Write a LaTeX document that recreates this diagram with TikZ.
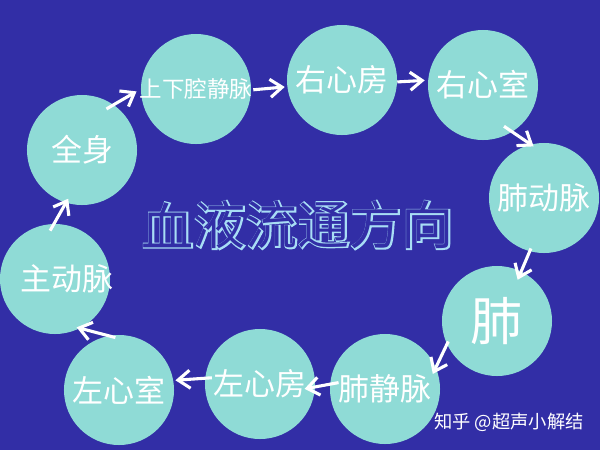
\documentclass[tikz,border=0pt]{standalone}
\usepackage{fontspec}
\newfontfamily\cjk{Noto Sans CJK SC}
\newfontfamily\cjkfat[FakeBold=4.5]{Noto Sans CJK SC}
\usepackage{xcolor}
\usepackage{tikz}
\usetikzlibrary{arrows.meta,calc}
\definecolor{bgblue}{RGB}{50,46,166}
\definecolor{organcol}{RGB}{143,219,214}
\definecolor{titlecol}{RGB}{168,221,245}

\begin{document}
\begin{tikzpicture}[x=0.025cm,y=-0.025cm]
	\tikzstyle{organ}=[circle, fill=organcol, minimum size=2.75cm, inner sep=0pt, text=white, font=\cjk\fontsize{22}{24}\selectfont]
	\tikzstyle{flow}=[white, line width=2.2pt, -{Straight Barb[length=0.3cm,width=0.45cm]}]
	\tikzstyle{titleout}=[inner sep=0pt, text=titlecol, font=\cjkfat\fontsize{37}{40}\selectfont]
	\tikzstyle{titlein}=[inner sep=0pt, text=bgblue, font=\cjk\fontsize{37}{40}\selectfont]
	\fill[bgblue] (0,0) rectangle (600,450);
	\useasboundingbox (0,0) rectangle (600,450);
	% circles
	\node[organ] (quanshen) at (82,150) {全身};
	\node[organ, font=\cjk\fontsize{16}{18}\selectfont] (qiangjingmai) at (196,89) {\makebox[0pt]{上下腔静脉}};
	\node[organ] (youxinfang) at (342,80) {\raisebox{-0.1cm}{右心房}};
	\node[organ] (youxinshi) at (483,85) {右心室};
	\node[organ] (feidongmai) at (544,198) {肺动脉};
	\node[organ, font=\cjk\fontsize{37}{40}\selectfont] (fei) at (497,321) {肺};
	\node[organ] (feijingmai) at (385,389) {肺静脉};
	\node[organ] (zuoxinfang) at (260,384) {左心房};
	\node[organ] (zuoxinshi) at (119,390) {左心室};
	\node[organ] (zhudongmai) at (55,279) {\makebox[0pt]{\hspace{0.6cm}\raisebox{-0.15cm}{主动脉}}};
	% arrows
	\draw[flow, shorten <=-0.21cm, shorten >=0.12cm] (quanshen.55) -- (qiangjingmai.180);
	\draw[flow, shorten <=0.05cm, shorten >=0.06cm] (qiangjingmai.-1) -- (youxinfang.187);
	\draw[flow, shorten >=0.08cm] (youxinfang.-2) -- (youxinshi.175);
	\draw[flow, shorten <=-0.25cm, shorten >=-0.09cm] (youxinshi.-58) -- (feidongmai.104);
	\draw[flow, shorten <=-0.08cm, shorten >=-0.23cm] (feidongmai.255) -- (fei.64);
	\draw[flow, shorten <=-0.08cm, shorten >=-0.18cm] (fei.205) -- (feijingmai.23);
	\draw[flow, shorten <=-0.22cm, shorten >=-0.27cm] (feijingmai.175) -- (zuoxinfang.-3);
	\draw[flow, shorten <=-0.17cm, shorten >=0.05cm] (zuoxinfang.174) -- (zuoxinshi.10);
	\draw[flow, shorten <=-0.18cm, shorten >=-0.09cm] (zuoxinshi.101) -- (zhudongmai.-63);
	\draw[flow, shorten <=-0.2cm, shorten >=-0.12cm] (zhudongmai.91) -- (quanshen.253);
	% title
	\foreach \ch [count=\i from 0] in {血,液,流,通,方,向} {
		\node[titleout] (to\i) at (168+52*\i,225) {\ch};
		\node[titlein] (ti\i) at (to\i) {\ch};
	}
	\node[text=white, font=\cjk\fontsize{13}{15}\selectfont] (zhihu) at (509,422) {知乎 @超声小解结};
\end{tikzpicture}
\end{document}
